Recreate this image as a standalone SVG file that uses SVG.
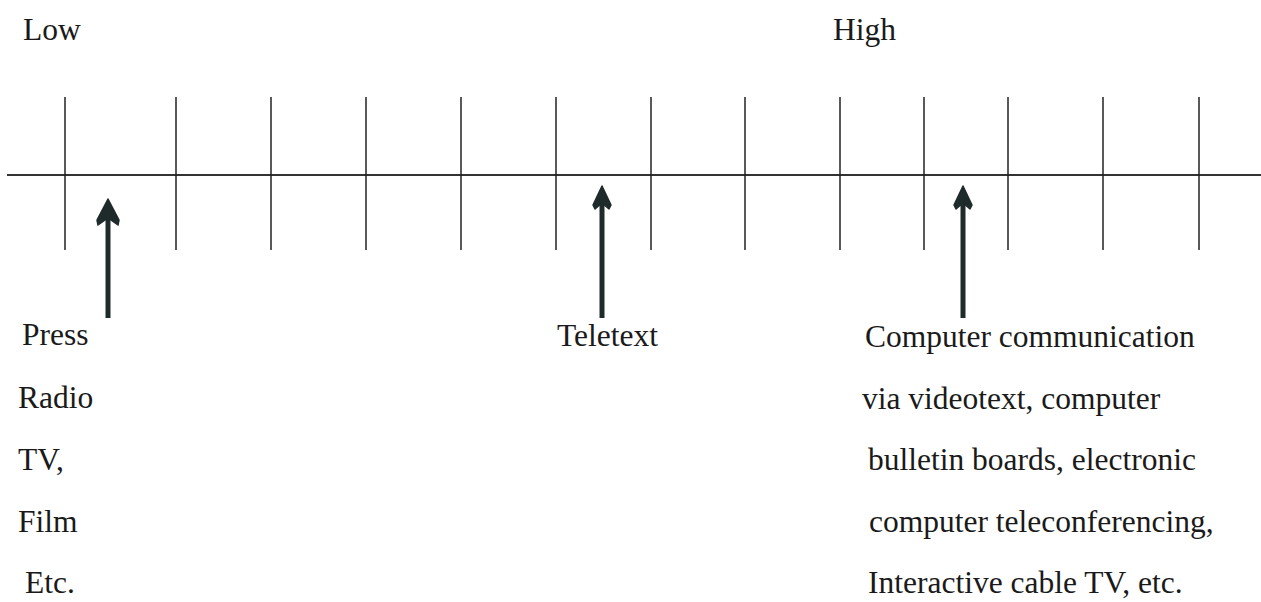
<svg xmlns="http://www.w3.org/2000/svg" width="1261" height="602" viewBox="0 0 1261 602">
<style>
text{font-family:"Liberation Serif","Times New Roman",serif;font-size:31.5px;fill:#1a1a1a}
.axis{stroke:#333;stroke-width:2;fill:none}
.tick{stroke:#222;stroke-width:1.5;fill:none}
.shaft{stroke:#1f2a2a;stroke-width:5;fill:none}
.head{fill:#1f2a2a;stroke:#1f2a2a;stroke-width:1.5;stroke-linejoin:round}
</style>
<rect width="1261" height="602" fill="#fff"/>
<g id="labels-top">
<text x="23" y="40">Low</text>
<text x="833" y="40">High</text>
</g>
<g id="scale">
<line class="axis" x1="7" y1="175" x2="1261" y2="175"/>
<g class="tick">
<line x1="65" y1="97" x2="65" y2="250"/>
<line x1="176" y1="97" x2="176" y2="250"/>
<line x1="271" y1="97" x2="271" y2="250"/>
<line x1="366" y1="97" x2="366" y2="250"/>
<line x1="461" y1="97" x2="461" y2="250"/>
<line x1="556" y1="97" x2="556" y2="250"/>
<line x1="651" y1="97" x2="651" y2="250"/>
<line x1="745" y1="97" x2="745" y2="250"/>
<line x1="840" y1="97" x2="840" y2="250"/>
<line x1="924" y1="97" x2="924" y2="250"/>
<line x1="1008" y1="97" x2="1008" y2="250"/>
<line x1="1103" y1="97" x2="1103" y2="250"/>
<line x1="1199" y1="97" x2="1199" y2="250"/>
</g>
</g>
<g id="connectors">
<line class="shaft" x1="108" y1="214" x2="108" y2="318"/>
<path class="head" d="M108,199 L119,220 L118,225 L108,218 L98,225 L97,220 Z"/>
<line class="shaft" x1="602" y1="200" x2="602" y2="318"/>
<path class="head" d="M602,186 L611,205 L609,209 L602,203 L595,209 L593,205 Z"/>
<line class="shaft" x1="963" y1="200" x2="963" y2="318"/>
<path class="head" d="M963,186 L972,205 L970,209 L963,203 L956,209 L954,205 Z"/>
</g>
<g id="node-low">
<text x="22" y="345">Press</text>
<text x="18" y="408">Radio</text>
<text x="18" y="470">TV,</text>
<text x="18" y="532">Film</text>
<text x="25" y="593">Etc.</text>
</g>
<g id="node-mid">
<text x="557" y="346">Teletext</text>
</g>
<g id="node-high">
<text x="865" y="347">Computer communication</text>
<text x="862" y="409">via videotext, computer</text>
<text x="868" y="470">bulletin boards, electronic</text>
<text x="869" y="532">computer teleconferencing,</text>
<text x="868" y="593">Interactive cable TV, etc.</text>
</g>
</svg>
